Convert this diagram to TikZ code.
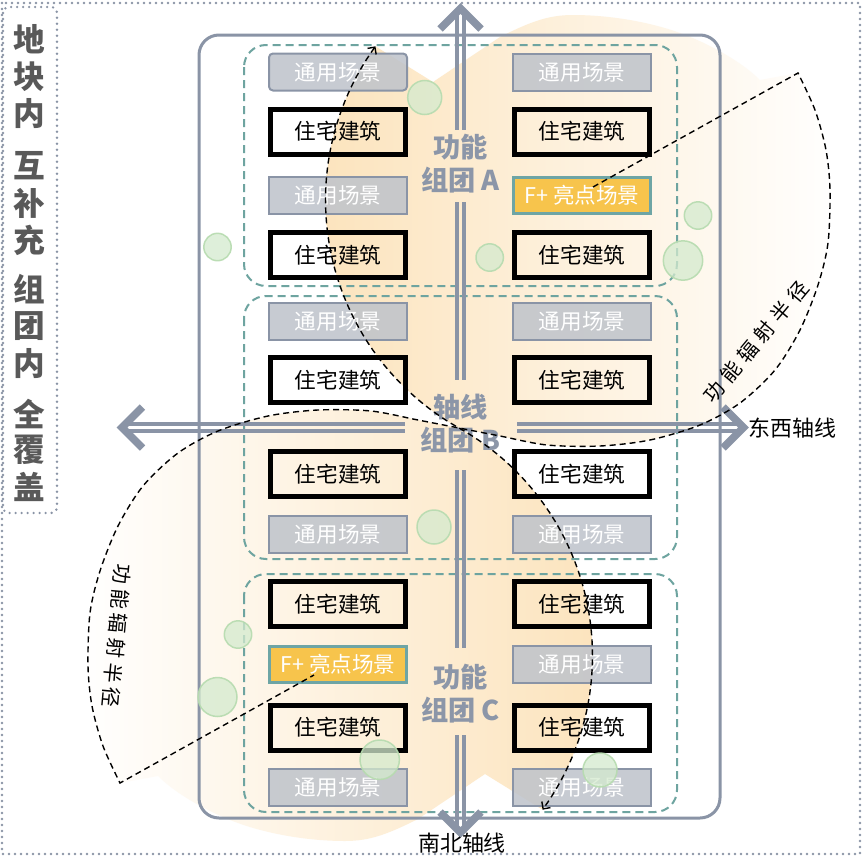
\documentclass[tikz,border=0pt]{standalone}
\usepackage{fontspec}
\setmainfont{Noto Sans CJK SC}
\usetikzlibrary{arrows.meta}
\newlength\upx
\setlength\upx{0.02cm}
\newcommand\spcA{\kern6\upx}
\newcommand\spcB{\kern4.5\upx}
\definecolor{axisgray}{RGB}{138,148,166}
\definecolor{gengray}{RGB}{190,195,203}
\definecolor{fplusfill}{RGB}{247,196,76}
\definecolor{fpborder}{RGB}{110,165,165}
\definecolor{tealb}{RGB}{110,164,160}
\definecolor{peach}{RGB}{252,228,190}
\definecolor{labelgray}{RGB}{140,150,168}
\definecolor{titlegray}{RGB}{89,89,89}
\definecolor{gfill}{RGB}{212,234,206}
\definecolor{gline}{RGB}{182,219,175}
\tikzset{
  boxfont/.style={font=\fontsize{12.3}{14}\selectfont},
  gen/.style={boxfont, draw=axisgray, line width=2\upx, fill=gengray, fill opacity=0.85, text opacity=1, text=white, minimum width=138\upx, minimum height=37\upx, inner sep=0pt},
  house/.style={boxfont, draw=black, line width=5\upx, minimum width=135\upx, minimum height=45\upx, inner sep=0pt},
  fplus/.style={boxfont, draw=fpborder, line width=3\upx, fill=fplusfill, text=white, minimum width=137\upx, minimum height=36\upx, inner sep=0pt},
  cluster/.style={draw=tealb, line width=2\upx, dash pattern=on 8\upx off 5\upx, rounded corners=22\upx},
  grp/.style={text=labelgray, font=\fontsize{15.5}{18.7}\selectfont\bfseries, align=center, inner sep=0pt},
  axisline/.style={draw=axisgray, line width=4.4\upx},
  chev/.style={draw=axisgray, line width=7.5\upx, line join=miter},
  gcirc/.style={fill=gfill, fill opacity=0.75, draw=gline, draw opacity=0.9, line width=1.5\upx},
  dashcurve/.style={draw=black, line width=1.4\upx, dash pattern=on 6\upx off 4\upx},
  dotframe/.style={draw=axisgray, line width=2.6\upx, line cap=round, dash pattern=on 0pt off 6\upx},
  titlech/.style={text=titlegray, font=\fontsize{18}{18}\selectfont\bfseries, inner sep=0pt},
  arclab/.style={font=\fontsize{11.5}{12}\selectfont, inner sep=0pt},
  axislab/.style={font=\fontsize{12.5}{14}\selectfont, inner sep=0pt},
  upperregion/.style={insert path={
    (459,428) -- plot[domain=240.7:144, samples=50] ({587+261.5*cos(\x)},{200-261.5*sin(\x)})
    -- (433,82) -- (500,37)
    .. controls (530,22) and (548,15) .. (573,15)
    .. controls (610,15) and (650,22) .. (680,33)
    .. controls (705,42) and (740,60) .. (760,80) -- (798,73)
    -- plot[smooth] coordinates {(798,73) (815,110) (826,150) (830,190) (828,243) (818,285) (800,330) (775,370) (740,403) (700,425) (650,440) (600,446) (547,445) (500,436) (459,428)}
    -- cycle}}
}
\begin{document}
\begin{tikzpicture}[x=0.02cm, y=-0.02cm]
\useasboundingbox (0,0) rectangle (866,859);
\fill[white] (0,0) rectangle (866,859);

% peach radiation regions
\begin{scope}
  \clip[upperregion];
  \shade[left color=peach, right color=white] (326,0) rectangle (842,460);
\end{scope}
\begin{scope}
  \clip[rotate around={180:(459,428)}, upperregion];
  \shade[left color=white, right color=peach] (76,396) rectangle (592,859);
\end{scope}

% outer dotted frame and title box
\draw[dotframe] (2,3) rectangle (860,854);
\draw[dotframe, rounded corners=6\upx] (3,7) rectangle (57,513);

% main frame
\draw[axisgray, line width=3\upx, rounded corners=20\upx] (199,35) rectangle (720,818);

% clusters
\draw[cluster] (244,45) rectangle (677,286);
\draw[cluster] (244,296) rectangle (677,559);
\draw[cluster] (244,574) rectangle (677,812);

% cluster A
\node[gen, rounded corners=4\upx] (al1) at (338,72) {通用场景};
\node[house] (al2) at (338,131.5) {住宅建筑};
\node[gen] (al3) at (338,195.5) {通用场景};
\node[house] (al4) at (338,255) {住宅建筑};
\node[gen] (ar1) at (582,72) {通用场景};
\node[house] (ar2) at (582,131.5) {住宅建筑};
\node[fplus] (ar3) at (582,195.5) {F+ 亮点场景};
\node[house] (ar4) at (582,255) {住宅建筑};
% cluster B
\node[gen] (bl1) at (338,321) {通用场景};
\node[house] (bl2) at (338,380) {住宅建筑};
\node[house] (bl3) at (338,474) {住宅建筑};
\node[gen] (bl4) at (338,534.5) {通用场景};
\node[gen] (br1) at (582,321) {通用场景};
\node[house] (br2) at (582,380) {住宅建筑};
\node[house] (br3) at (582,474) {住宅建筑};
\node[gen] (br4) at (582,534.5) {通用场景};
% cluster C
\node[house] (cl1) at (338,604) {住宅建筑};
\node[fplus] (cl2) at (338,664) {F+ 亮点场景};
\node[house] (cl3) at (338,727.5) {住宅建筑};
\node[gen] (cl4) at (338,787) {通用场景};
\node[house] (cr1) at (582,604) {住宅建筑};
\node[gen] (cr2) at (582,664) {通用场景};
\node[house] (cr3) at (582,727.5) {住宅建筑};
\node[gen] (cr4) at (582,787) {通用场景};

% green circles
\path[gcirc] (424.7,97.5) circle[radius=17\upx];
\path[gcirc] (217.5,247) circle[radius=13.7\upx];
\path[gcirc] (489.7,257.5) circle[radius=13.7\upx];
\path[gcirc] (698,215.5) circle[radius=13.7\upx];
\path[gcirc] (683,260.5) circle[radius=19.7\upx];
\path[gcirc] (434,527) circle[radius=17\upx];
\path[gcirc] (238,634.5) circle[radius=13.7\upx];
\path[gcirc] (217.5,697) circle[radius=19.5\upx];
\path[gcirc] (379.7,759.7) circle[radius=19.7\upx];
\path[gcirc] (600,770) circle[radius=17\upx];

% axes (double lines with chevron heads)
\foreach \xx in {457,464} {
  \draw[axisline] (\xx,12) -- (\xx,130);
  \draw[axisline] (\xx,202) -- (\xx,380);
  \draw[axisline] (\xx,470) -- (\xx,648);
  \draw[axisline] (\xx,735) -- (\xx,828);
}
\foreach \yy in {424,431} {
  \draw[axisline] (126,\yy) -- (405,\yy);
  \draw[axisline] (517,\yy) -- (739,\yy);
}
\draw[chev] (440,29) -- (460.5,8.5) -- (481,29);
\draw[chev] (440,812) -- (460.5,832.5) -- (481,812);
\draw[chev] (142.5,407) -- (122,427.5) -- (142.5,448);
\draw[chev] (723,407) -- (743.5,427.5) -- (723,448);

% group labels
\node[grp] (ga) at (460.5,164) {功能\\组团 A};
\node[grp] (gb) at (460.5,424) {轴线\\组团 B};
\node[grp] (gc) at (460.5,694) {功能\\组团 C};

% axis labels
\node[axislab] (ew) at (792.5,428) {东西轴线};
\node[axislab] (ns) at (462,843) {南北轴线};

% title
\foreach \ch/\yy [count=\i] in {地/39,块/76.5,内/113.5,互/166,补/203.5,充/240,组/289,团/326.5,内/363.5,全/414,覆/450,盖/486.5} {
  \node[titlech] (t\i) at (29.5,\yy) {\ch};
}

% radiation outlines
\draw[dashcurve] (593,187) -- (798,73)
  -- plot[smooth] coordinates {(798,73) (815,110) (826,150) (830,190) (828,243) (818,285) (800,330) (775,370) (740,403) (700,425) (650,440) (600,446) (547,445) (500,436) (459,428) (418,420) (371,411) (318,410) (268,416) (218,431) (178,453) (143,486) (118,526) (100,571) (90,613) (88,666) (92,706) (103,746) (120,783)}
  -- (314,675);
\draw[dashcurve, {Straight Barb[length=3pt,width=6pt]}-{Straight Barb[length=3pt,width=6pt]}]
  plot[domain=144:240.7, samples=50] ({587+261.5*cos(\x)},{200-261.5*sin(\x)})
  -- plot[domain=60.7:-36, samples=50] ({331+261.5*cos(\x)},{656-261.5*sin(\x)});

% arc labels
\node[arclab, rotate=50.15] (radU) at (756,342) {功\spcA 能\spcA 辐\spcA 射\spcA 半\spcA 径};
\node[arclab, rotate=-95.25] (radL) at (117,636) {功\spcB 能\spcB 辐\spcB 射\spcB 半\spcB 径};
\end{tikzpicture}
\end{document}
